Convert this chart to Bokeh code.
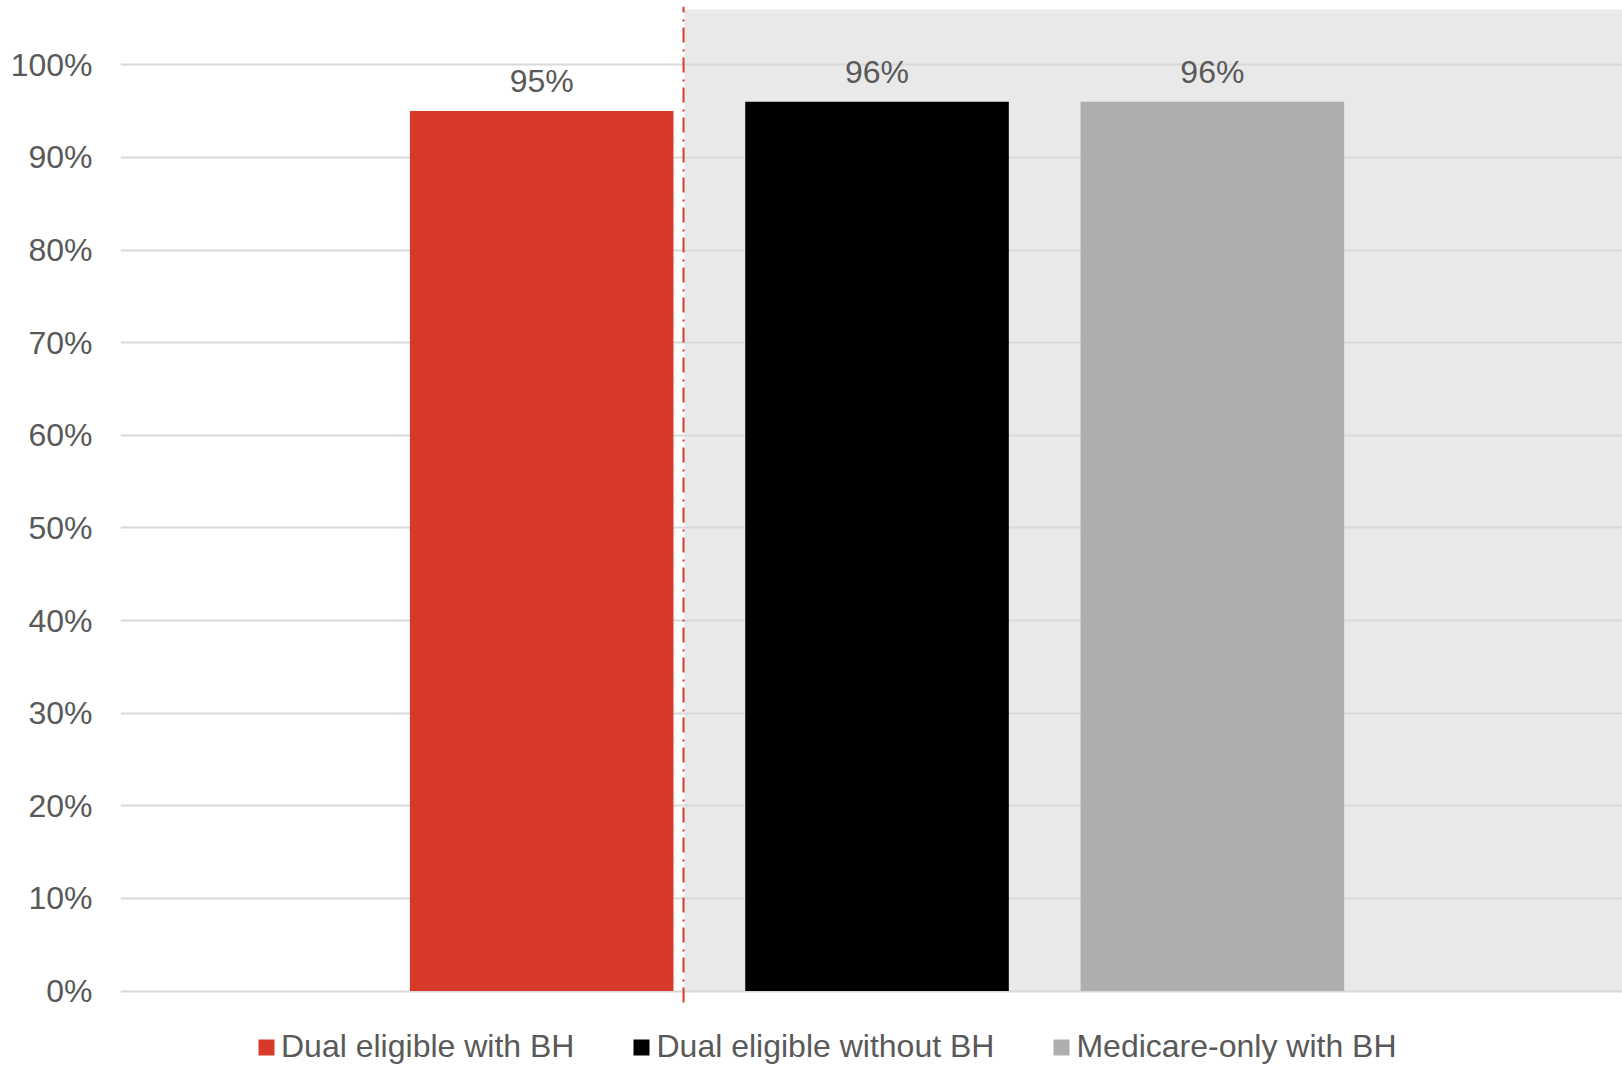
from bokeh.plotting import figure
from bokeh.models import (ColumnDataSource, BoxAnnotation, Legend, LegendItem,
                          FixedTicker, NumeralTickFormatter, Range1d)
from bokeh.core.properties import value
from bokeh.embed import file_html
from bokeh.resources import INLINE

# Share of beneficiaries, by group
groups = ["Dual eligible with BH", "Dual eligible without BH", "Medicare-only with BH"]
shares = [0.95, 0.96, 0.96]
bar_colors = ["#D73A29", "#000000", "#AEAEAE"]
y_ticks = [0.0, 0.1, 0.2, 0.3, 0.4, 0.5, 0.6, 0.7, 0.8, 0.9, 1.0]

# Comparison groups (shaded) begin right of this x position
divider_at = 1.423
divider_bottom = -0.0124
y_top = 1.0629
shade_top = 1.0597

FONT = "Liberation Sans"
TEXT = "#595959"
FS = "32px"

positions = [i + 1 for i in range(len(groups))]
labels = [f"{round(v * 100)}%" for v in shares]
src = ColumnDataSource(dict(x=positions, top=shares, color=bar_colors,
                            group=groups, label=labels))

p = figure(width=1622, height=1065,
           x_range=Range1d(-0.256, 4.223), y_range=Range1d(-0.0804, y_top),
           output_backend="svg", toolbar_location=None,
           min_border_left=120, min_border_right=0, min_border_top=6,
           min_border_bottom=0)
p.outline_line_color = None
p.background_fill_color = "white"
p.border_fill_color = "white"

# Shaded band behind the comparison groups
p.add_layout(BoxAnnotation(left=divider_at + 0.003, bottom=0, top=shade_top,
                           fill_color="#E9E9E9", fill_alpha=1.0,
                           line_color=None, level="image"))

bars = p.vbar(x="x", top="top", bottom=0, width=0.786, color="color",
              line_color=None, source=src)

p.text(x="x", y="top", text="label", source=src,
       text_align="center", text_baseline="alphabetic", y_offset=-30,
       text_font=value(FONT), text_font_size=value(FS), text_color=TEXT)

# Dash-dot divider between the focus group and the comparison groups
p.segment(x0=[divider_at], y0=[divider_bottom], x1=[divider_at], y1=[y_top],
          line_color="#D73A29", line_width=2, line_dash="15 6 2 7")

p.xaxis.visible = False
p.xgrid.visible = False

p.yaxis.ticker = FixedTicker(ticks=y_ticks)
p.yaxis.formatter = NumeralTickFormatter(format="0%")
p.yaxis.axis_line_color = None
p.yaxis.major_tick_line_color = None
p.yaxis.minor_tick_line_color = None
p.yaxis.major_tick_out = 0
p.yaxis.major_label_standoff = 28
p.yaxis.major_label_text_font = FONT
p.yaxis.major_label_text_font_size = FS
p.yaxis.major_label_text_color = TEXT

p.ygrid.ticker = FixedTicker(ticks=y_ticks)
p.ygrid.grid_line_color = "#D9D9D9"
p.ygrid.grid_line_width = 2

items = [LegendItem(label=g, renderers=[bars], index=i) for i, g in enumerate(groups)]
legend = Legend(items=items, orientation="horizontal", location=(136, 0),
                glyph_width=20, glyph_height=20, label_standoff=5, spacing=57,
                label_text_font=FONT, label_text_font_size=FS,
                label_text_color=TEXT, border_line_color=None,
                background_fill_alpha=0, padding=0, margin=0)
p.add_layout(legend, "center")

open("out.html", "w").write(file_html(p, INLINE))
